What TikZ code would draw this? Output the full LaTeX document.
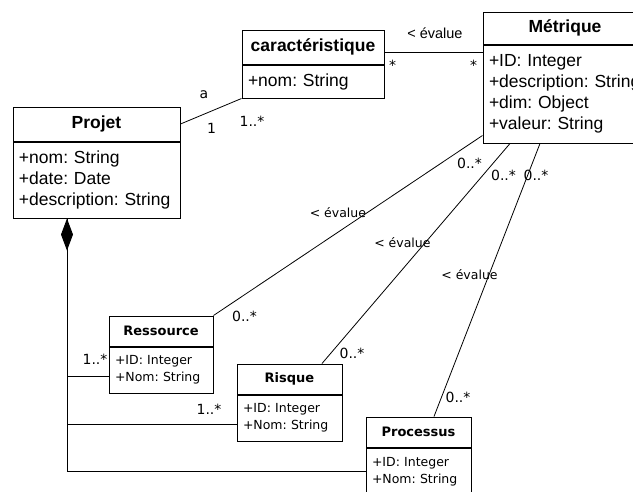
\documentclass[tikz,border=0pt]{standalone}
\usepackage{fontspec}
\setmainfont{Liberation Sans}
\newfontfamily\tahoma{DejaVu Sans}
\usetikzlibrary{positioning,arrows.meta}
\frenchspacing

\begin{document}
\begin{tikzpicture}[x=1pt,y=-1pt,
    classtitle/.style={rectangle,draw,line width=1pt,inner sep=0pt,font=\bfseries\fontsize{17.5}{21}\selectfont},
    classattr/.style={rectangle,draw,line width=1pt,inner xsep=6pt,inner ysep=0pt,align=left,font=\fontsize{17.5}{21}\selectfont},
    smalltitle/.style={classtitle,font=\tahoma\bfseries\fontsize{13}{16}\selectfont},
    smallattr/.style={classattr,font=\tahoma\fontsize{12.5}{17}\selectfont},
    assoc/.style={line width=0.8pt},
    compo/.style={line width=1pt},
    mult/.style={inner sep=0pt,font=\tahoma\fontsize{14}{16}\selectfont},
    role/.style={inner sep=0pt,font=\tahoma\fontsize{12.5}{15}\selectfont},
    toprole/.style={inner sep=0pt,font=\fontsize{14.5}{16}\selectfont}]
    \clip (0,0) rectangle (633,491);
    % classes
    \node[classtitle,minimum width=167pt,minimum height=34pt] (projet) at (96.5,124) {Projet};
    \node[classattr,text width=155pt,minimum height=76pt,below=0pt of projet] (projetattr) {+nom: String\\+date: Date\\+description: String};
    \node[classtitle,minimum width=142pt,minimum height=34pt] (caract) at (313,47) {caractéristique};
    \node[classattr,text width=130pt,minimum height=33pt,below=0pt of caract] (caractattr) {+nom: String};
    \node[classtitle,minimum width=164pt,minimum height=32pt] (metrique) at (565,28) {Métrique};
    \node[classattr,text width=152pt,minimum height=98pt,below=0pt of metrique] (metriqueattr) {+ID: Integer\\+description: String\\+dim: Object\\+valeur: String};
    \node[smalltitle,minimum width=104pt,minimum height=30pt] (ressource) at (161,331) {Ressource};
    \node[smallattr,text width=92pt,minimum height=46pt,below=0pt of ressource] (ressourceattr) {+ID: Integer\\+Nom: String};
    \node[smalltitle,minimum width=105pt,minimum height=30pt] (risque) at (289.5,379) {Risque};
    \node[smallattr,text width=93pt,minimum height=46pt,below=0pt of risque] (risqueattr) {+ID: Integer\\+Nom: String};
    \node[smalltitle,minimum width=105pt,minimum height=30pt] (processus) at (418.5,432) {Processus};
    \node[smallattr,text width=93pt,minimum height=47pt,below=0pt of processus] (processusattr) {+ID: Integer\\+Nom: String};
    % associations
    \draw[assoc] (projet.east) -- (caractattr.south west)
        node[mult,pos=0.4,xshift=-1pt,yshift=19.5pt] {a}
        node[mult,at start,xshift=31pt,yshift=-4pt] {1}
        node[mult,at end,xshift=10.5pt,yshift=-23pt] {1..*};
    \draw[assoc] ([yshift=-5pt]caract.east) -- ([yshift=-5pt]caract.east -| metriqueattr.west)
        node[toprole,pos=0.515,yshift=19pt] {< évalue}
        node[mult,at start,xshift=8pt,yshift=-13pt] {*}
        node[mult,at end,xshift=-9pt,yshift=-13pt] {*};
    \draw[assoc] ([yshift=8pt]metriqueattr.south west) -- (ressource.north east)
        node[role,pos=0.426,xshift=-30pt] {< évalue}
        node[mult,at start,xshift=-13pt,yshift=-28pt] {0..*}
        node[mult,at end,xshift=31pt,yshift=-1pt] {0..*};
    \draw[assoc] ([xshift=-55pt]metriqueattr.south) -- ([xshift=32.5pt]risque.north)
        node[role,pos=0.4525,xshift=-22.5pt] {< évalue}
        node[mult,at start,xshift=-6.5pt,yshift=-32pt] {0..*}
        node[mult,at end,xshift=30pt,yshift=10pt] {0..*};
    \draw[assoc] ([xshift=-25pt]metriqueattr.south) -- ([xshift=15.5pt]processus.north)
        node[role,pos=0.482,xshift=-19.4pt] {< évalue}
        node[mult,at start,xshift=-4pt,yshift=-32pt] {0..*}
        node[mult,at end,xshift=24pt,yshift=19pt] {0..*};
    % composition
    \draw[compo,{Diamond[length=32pt,width=12pt]}-] ([xshift=-29.5pt]projetattr.south) |- ([yshift=-6pt]ressourceattr.west)
        node[mult,at end,xshift=-13.5pt,yshift=16.5pt] {1..*};
    \draw[compo] ([xshift=-29.5pt]projetattr.south) |- ([yshift=-6pt]risqueattr.west)
        node[mult,at end,xshift=-27.5pt,yshift=15pt] {1..*};
    \draw[compo] ([xshift=-29.5pt]projetattr.south) |- (processusattr.west);
\end{tikzpicture}
\end{document}
